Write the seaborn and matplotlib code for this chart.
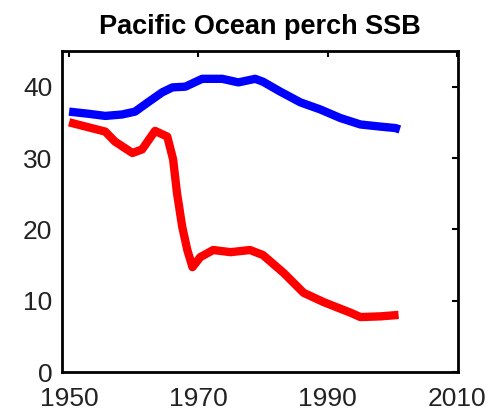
import matplotlib
matplotlib.use("Agg")
import matplotlib.pyplot as plt
import seaborn as sns
import pandas as pd

blue_years = [1950, 1953, 1955.6, 1958.2, 1960.2, 1962.2, 1964.4, 1966, 1968, 1970.6, 1973.7, 1976.2, 1978.8, 1980, 1982.7, 1985.8, 1988.9, 1992, 1995.1, 1998.2, 2000.5, 2001.2]
blue_vals = [36.5, 36.2, 35.9, 36.1, 36.5, 37.8, 39.2, 39.9, 40.0, 41.1, 41.1, 40.6, 41.1, 40.7, 39.3, 37.8, 36.8, 35.6, 34.7, 34.4, 34.2, 34.0]

red_years = [1950, 1955.6, 1957.1, 1959.8, 1961.3, 1963.3, 1965.2, 1966.1, 1966.7, 1967.5, 1968.3, 1969.1, 1970.3, 1972.3, 1975, 1978, 1980, 1983.2, 1986.3, 1989.4, 1993.6, 1995.1, 1998.2, 2001]
red_vals = [35.0, 33.7, 32.3, 30.7, 31.2, 33.8, 33.0, 29.8, 25.1, 20.4, 17.1, 14.7, 16.1, 17.1, 16.8, 17.1, 16.4, 13.9, 11.1, 9.8, 8.3, 7.7, 7.8, 8.0]

title = "Pacific Ocean perch SSB"
xticks = [1950, 1970, 1990, 2010]
yticks = [0, 10, 20, 30, 40]

sns.set_style("white")
plt.rcParams['font.family'] = ['Liberation Sans', 'DejaVu Sans']

fig = plt.figure(figsize=(4.95, 4.17), dpi=100)
ax = fig.add_axes([62/495, 45/417, 396/495, 321/417])

df_b = pd.DataFrame({"year": blue_years, "ssb": blue_vals})
df_r = pd.DataFrame({"year": red_years, "ssb": red_vals})
sns.lineplot(data=df_b, x="year", y="ssb", color="#0000ff", lw=6, ax=ax, sort=False,
             solid_joinstyle="round", solid_capstyle="butt")
sns.lineplot(data=df_r, x="year", y="ssb", color="#ff0000", lw=6, ax=ax, sort=False,
             solid_joinstyle="round", solid_capstyle="butt")

ax.set_xlim(1948.9, 2010.2)
ax.set_ylim(0, 45)
ax.set_xticks(xticks)
ax.set_yticks(yticks)
ax.set_xlabel("")
ax.set_ylabel("")
ax.tick_params(direction="in", length=4, width=1.5, labelsize=19, colors="black",
               top=True, right=True, labeltop=False, labelright=False)
ax.tick_params(axis="both", labelcolor="#222222")
ax.tick_params(axis="x", pad=11)
ax.tick_params(axis="y", pad=7)
for s in ax.spines.values():
    s.set_linewidth(2)
    s.set_color("black")
ax.set_title(title, fontsize=19.5, fontweight="bold", pad=12, color="black")

fig.savefig("out.png", dpi=100)
